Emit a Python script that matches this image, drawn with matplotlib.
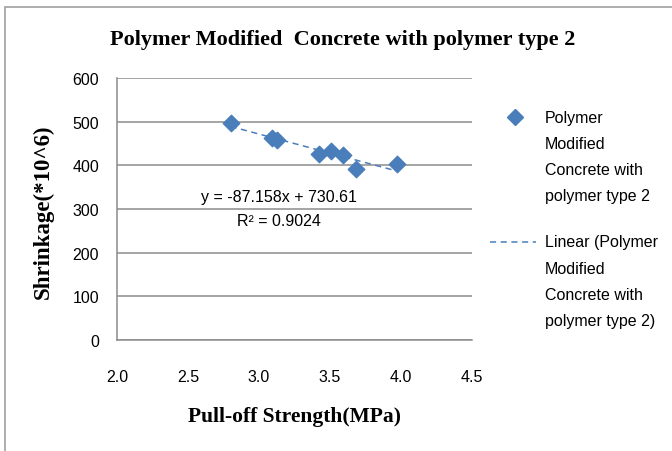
import matplotlib.pyplot as plt
import numpy as np
from matplotlib.patches import Rectangle
from matplotlib.lines import Line2D

# values
strength = [2.80, 3.09, 3.13, 3.42, 3.51, 3.59, 3.68, 3.97]
shrinkage = [498, 462, 458, 427, 433, 423, 391, 403]
x_ticks = [2.0, 2.5, 3.0, 3.5, 4.0, 4.5]
y_ticks = [0, 100, 200, 300, 400, 500, 600]
series_name = "Polymer\nModified\nConcrete with\npolymer type 2"
trend_name = "Linear (Polymer\nModified\nConcrete with\npolymer type 2)"
eq_text = "y = -87.158x + 730.61\nR² = 0.9024"

blue = "#4a7ebb"
sans = "Liberation Sans"
serif = "Liberation Serif"
W, H = 672, 452

fig = plt.figure(figsize=(6.72, 4.52), dpi=100)
fig.patches.append(Rectangle((0.008, -0.05), 1.2, 1.032, transform=fig.transFigure,
                             fill=False, edgecolor="#a0a0a0", linewidth=1.2))

ax = fig.add_axes([117 / W, 1 - 341 / H, 355 / W, 262 / H])

ax.scatter(strength, shrinkage, marker="D", s=70, color=blue, zorder=3)
slope, icept = np.polyfit(strength, shrinkage, 1)
xs = np.array([min(strength), max(strength)])
ax.plot(xs, slope * xs + icept, color=blue, linewidth=1.1, dashes=(4, 3), zorder=2)

ax.set_xlim(2.0, 4.5)
ax.set_ylim(0, 600)
ax.set_xticks(x_ticks)
ax.set_xticklabels([f"{v:.1f}" for v in x_ticks], fontfamily=sans, fontsize=11.5)
ax.set_yticks(y_ticks)
ax.set_yticklabels([str(v) for v in y_ticks], fontfamily=sans, fontsize=11.5)
ax.tick_params(axis="x", length=0, pad=21)
ax.tick_params(axis="y", length=0, pad=13)
ax.yaxis.grid(True, color="#8c8c8c", linewidth=1.1)
ax.set_axisbelow(True)
for s in ["top", "right"]:
    ax.spines[s].set_visible(False)
for s in ["left", "bottom"]:
    ax.spines[s].set_color("#8c8c8c")
    ax.spines[s].set_linewidth(1.1)

ax.text(3.14, 302, eq_text, ha="center", va="center", fontfamily=sans,
        fontsize=11.5, linespacing=1.75)

fig.text(343 / W, 1 - 40 / H, "Polymer Modified  Concrete with polymer type 2",
         ha="center", va="center", fontfamily=serif, fontweight="bold", fontsize=16)
fig.text(294 / W, 1 - 417 / H, "Pull-off Strength(MPa)", ha="center", va="center",
         fontfamily=serif, fontweight="bold", fontsize=15.5)
fig.text(43 / W, 1 - 212 / H, "Shrinkage(*10^6)", ha="center", va="center", rotation=90,
         fontfamily=serif, fontweight="bold", fontsize=16.5)

# legend, laid out like the spreadsheet one: handle beside the first line
fig.add_artist(Line2D([515 / W], [1 - 118 / H], marker="D", markersize=8,
                      color=blue, linestyle="none", transform=fig.transFigure))
fig.add_artist(Line2D([490 / W, 536 / W], [1 - 243 / H, 1 - 243 / H], color=blue,
                      linewidth=1.1, dashes=(4, 3), transform=fig.transFigure))
for label, top in [(series_name, 118), (trend_name, 243)]:
    for i, line in enumerate(label.split("\n")):
        fig.text(545 / W, 1 - (top + 26.3 * i) / H, line, ha="left", va="center",
                 fontfamily=sans, fontsize=11.5)

fig.savefig("out.png", dpi=100)
